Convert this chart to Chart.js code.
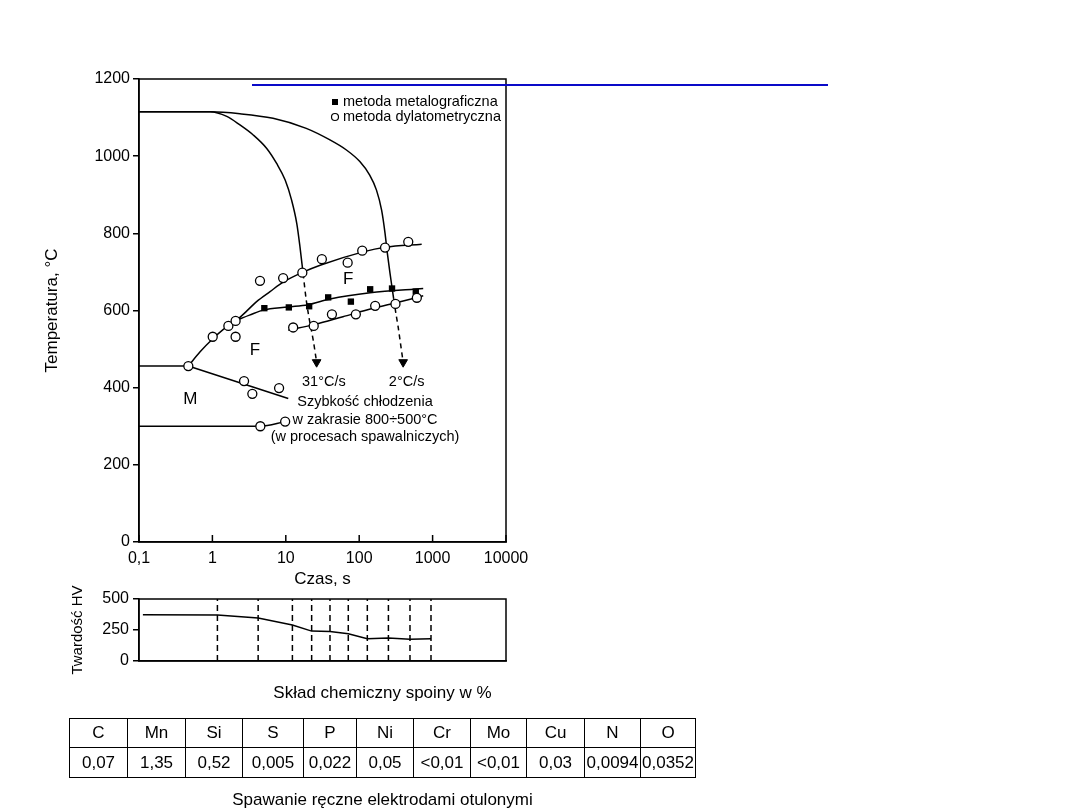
<!DOCTYPE html>
<html>
<head>
<meta charset="utf-8">
<script src="https://cdn.jsdelivr.net/npm/chart.js@4.4.0/dist/chart.umd.min.js"></script>
<style>
  body { margin: 0; background: #fff; width: 1080px; height: 810px; position: relative; overflow: hidden;
         font-family: "Liberation Sans", Arial, sans-serif; color: #000; }
  #main { position: absolute; left: 0; top: 0; }
  #hv { position: absolute; left: 0; top: 560px; }
  .blue { position: absolute; left: 252px; top: 84px; width: 576px; height: 2px; background: #0a0ac8; }
  .cap { position: absolute; left: 69px; width: 627px; text-align: center; font-size: 17px; line-height: 20px; }
  table { position: absolute; left: 69px; top: 718px; border-collapse: collapse; table-layout: fixed; font-size: 17px; }
  td { border: 1.5px solid #000; text-align: center; padding: 0; height: 28px; white-space: nowrap; }
</style>
</head>
<body>
<canvas id="main" width="560" height="600"></canvas>
<canvas id="hv" width="560" height="130"></canvas>
<div class="blue"></div>
<div class="cap" style="top:683px">Skład chemiczny spoiny w %</div>
<table id="tab"></table>
<div class="cap" style="top:790px">Spawanie ręczne elektrodami otulonymi</div>

<script>
// ---- data (time in s, temperature in °C) ----
const xTicks = [0.1, 1, 10, 100, 1000, 10000];
const yTicks = [0, 200, 400, 600, 800, 1000, 1200];

// cooling curves (solid part, then dashed part ending in an arrow)
const cool31 = [[0.1,1115],[0.93,1115],[1.57,1103],[2.37,1081],[3.6,1055],[5.5,1020],[7.5,981],[9.8,938],[12,886],[14.1,826],[15.6,765],[17.2,696]];
const cool31Dash = [[17.2,696],[19,627],[21,575],[23.6,524],[26.3,466]];
const cool2 = [[0.1,1115],[0.93,1115],[2.37,1110],[6.7,1098],[19,1072],[40,1042],[67,1016],[102,986],[139,951],[172,912],[202,860],[225,800],[242,748],[263,696],[280,660],[295,630]];
const cool2Dash = [[295,630],[316,593],[339,558],[368,510],[397,466]];

// transformation lines
const ferriteStart = [[0.47,456],[0.68,493],[1.03,528],[1.41,551],[2.14,575],[2.95,599],[4,623],[6.1,649],[9.3,674],[16.5,698],[30,718],[113,752],[225,764],[710,772]];
const midLine = [[2.14,575],[3.2,588],[4.9,601],[10.8,609],[20,615],[40,630],[141,646],[745,657]];
const lowLine = [[10.8,549],[25,564],[60,584],[150,605],[350,622],[745,638]];
const flat456 = [[0.1,456],[0.47,456]];
const downLine = [[0.47,456],[10.8,372]];
const msLine = [[0.1,300],[4.5,300],[9.8,312]];

// measured points
const dilato = [[1.01,532],[1.65,560],[2.07,573],[2.07,532],[4.45,677],[9.2,684],[16.8,698],[31,733],[69.6,724],[110,755],[225,763],[466,778],
                [12.6,556],[24,560],[42.5,590],[90,590],[165,612],[312,617],[610,633],
                [0.47,456],[2.7,417],[3.5,384],[8.1,399],
                [4.5,300],[9.8,312]];
const metallo = [[5.1,606],[11,608],[20.8,611],[37.8,634],[77,623],[141,655],[280,657],[590,649]];

// text in the diagram: [text, time, temperature]
const notes = [
  ['F', 71, 681], ['F', 3.8, 498], ['M', 0.5, 370],
  ['31°C/s', 33, 415], ['2°C/s', 443, 415],
  ['Szybkość chłodzenia', 120, 363],
  ['w zakrasie 800÷500°C', 120, 316],
  ['(w procesach spawalniczych)', 120, 272]
];
const legendItems = ['metoda metalograficzna', 'metoda dylatometryczna'];

// hardness
const hvTime = [0.113, 1.17, 4.2, 12.3, 22.5, 40, 71, 129, 250, 492, 951];
const hvValue = [373, 371, 347, 291, 241, 238, 220, 180, 185, 175, 180];
const hvCuts = [1.17, 4.2, 12.3, 22.5, 40, 71, 129, 250, 492, 951];
const hvTicks = [0, 250, 500];

// chemical composition
const elements = ['C','Mn','Si','S','P','Ni','Cr','Mo','Cu','N','O'];
const contents = ['0,07','1,35','0,52','0,005','0,022','0,05','<0,01','<0,01','0,03','0,0094','0,0352'];
const colWidths = [58,58,57,61,53,57,57,56,58,56,55];

// ---- table ----
const tab = document.getElementById('tab');
tab.innerHTML = '<colgroup>' + colWidths.map(w => `<col style="width:${w}px">`).join('') + '</colgroup>' +
  '<tr>' + elements.map(e => `<td>${e}</td>`).join('') + '</tr>' +
  '<tr>' + contents.map(c => `<td style="height:29px">${c.replace('<','&lt;')}</td>`).join('') + '</tr>';

// ---- charts ----
Chart.defaults.font.family = '"Liberation Sans", Arial, sans-serif';
Chart.defaults.color = '#000';
const pts = a => a.map(p => ({x: p[0], y: p[1]}));

const frame = {
  id: 'frame',
  afterDatasetsDraw(chart, args, opts) {
    const {ctx, chartArea: a} = chart;
    ctx.save();
    ctx.strokeStyle = '#000';
    ctx.lineWidth = 1.5;
    ctx.strokeRect(a.left, a.top, a.right - a.left, a.bottom - a.top);
    if (opts.innerTicks) {
      const x = chart.scales.x;
      x.ticks.forEach(t => {
        const px = x.getPixelForValue(t.value);
        ctx.beginPath(); ctx.moveTo(px, a.bottom); ctx.lineTo(px, a.bottom - 7); ctx.stroke();
      });
    }
    ctx.restore();
  }
};

const texts = {
  id: 'texts',
  afterDatasetsDraw(chart) {
    const {ctx, chartArea: a, scales: {x, y}} = chart;
    ctx.save();
    ctx.fillStyle = '#000';
    ctx.textAlign = 'center';
    ctx.textBaseline = 'middle';
    notes.forEach(([s, t, T]) => {
      ctx.font = (s.length === 1 ? '17px' : '14.5px') + ' "Liberation Sans", Arial, sans-serif';
      ctx.fillText(s, x.getPixelForValue(t), y.getPixelForValue(T));
    });
    // legend in the upper right corner
    ctx.font = '14.5px "Liberation Sans", Arial, sans-serif';
    ctx.textAlign = 'left';
    const lx = a.right - 171, ly = a.top + 23;
    ctx.fillRect(lx - 3, ly - 3, 6, 6);
    ctx.fillText(legendItems[0], lx + 8, ly);
    ctx.beginPath(); ctx.arc(lx, ly + 15, 3.5, 0, Math.PI * 2);
    ctx.lineWidth = 1.2; ctx.strokeStyle = '#000'; ctx.stroke();
    ctx.fillText(legendItems[1], lx + 8, ly + 15);
    ctx.restore();
  }
};

const line = (data, dash) => ({
  data: pts(data), borderColor: '#000', borderWidth: 1.5, pointRadius: 0,
  cubicInterpolationMode: 'monotone', borderDash: dash || [], order: 2
});
const arrowLine = data => Object.assign(line(data, [5, 4]), {
  pointRadius: c => c.dataIndex === data.length - 1 ? 5 : 0,
  pointStyle: 'triangle', pointRotation: 180, pointBackgroundColor: '#000', pointBorderColor: '#000', pointBorderWidth: 1
});

new Chart(document.getElementById('main'), {
  type: 'line',
  data: {
    datasets: [
      { data: pts(dilato), showLine: false, pointStyle: 'circle', pointRadius: 4.5,
        pointBackgroundColor: '#fff', pointBorderColor: '#000', pointBorderWidth: 1.3, order: 0 },
      { data: pts(metallo), showLine: false, pointStyle: 'rect', pointRadius: 4.5,
        pointBackgroundColor: '#000', pointBorderColor: '#000', pointBorderWidth: 0, order: 0 },
      line(cool31), arrowLine(cool31Dash), line(cool2), arrowLine(cool2Dash),
      line(ferriteStart), line(midLine), line(lowLine), line(flat456), line(downLine), line(msLine)
    ]
  },
  options: {
    responsive: false, animation: false,
    layout: { padding: { top: 79, right: 54, left: 0, bottom: 0 } },
    plugins: { legend: { display: false }, tooltip: { enabled: false }, frame: { innerTicks: true } },
    scales: {
      x: {
        type: 'logarithmic', min: 0.1, max: 10000,
        afterBuildTicks: s => { s.ticks = xTicks.map(v => ({value: v})); },
        afterFit: s => { s.height = 58; },
        ticks: { autoSkip: false, maxRotation: 0, padding: 7, font: { size: 16 },
                 callback: v => String(v).replace('.', ',') },
        grid: { display: false, drawTicks: false },
        border: { color: '#000', width: 1.5 },
        title: { display: true, text: 'Czas, s', font: { size: 17 }, padding: { top: 0, bottom: 10 } }
      },
      y: {
        min: 0, max: 1200,
        afterBuildTicks: s => { s.ticks = yTicks.map(v => ({value: v})); },
        afterFit: s => { s.width = 139; },
        ticks: { padding: 3, font: { size: 16 }, callback: v => String(v) },
        grid: { drawOnChartArea: false, tickLength: 6, color: '#000', lineWidth: 1.5 },
        border: { color: '#000', width: 1.5 },
        title: { display: true, text: 'Temperatura, °C', font: { size: 17 }, padding: { top: 42, bottom: 0 } }
      }
    }
  },
  plugins: [frame, texts]
});

new Chart(document.getElementById('hv'), {
  type: 'line',
  data: {
    datasets: [
      { data: hvTime.map((t, i) => ({x: t, y: hvValue[i]})), borderColor: '#000', borderWidth: 1.5, pointRadius: 0, tension: 0 }
    ].concat(hvCuts.map(t => ({
      data: [{x: t, y: 0}, {x: t, y: 500}], borderColor: '#000', borderWidth: 1.5, borderDash: [6, 4], pointRadius: 0
    })))
  },
  options: {
    responsive: false, animation: false,
    layout: { padding: { top: 39, right: 54, left: 0, bottom: 0 } },
    plugins: { legend: { display: false }, tooltip: { enabled: false }, frame: { innerTicks: false } },
    scales: {
      x: {
        type: 'logarithmic', min: 0.1, max: 10000,
        afterFit: s => { s.height = 29; },
        ticks: { display: false },
        grid: { display: false, drawTicks: false },
        border: { color: '#000', width: 1.5 }
      },
      y: {
        min: 0, max: 500,
        afterBuildTicks: s => { s.ticks = hvTicks.map(v => ({value: v})); },
        afterFit: s => { s.width = 139; },
        ticks: { padding: 4, font: { size: 16 }, callback: v => String(v) },
        grid: { drawOnChartArea: false, tickLength: 6, color: '#000', lineWidth: 1.5 },
        border: { color: '#000', width: 1.5 },
        title: { display: true, text: 'Twardość HV', font: { size: 15 }, padding: { top: 69, bottom: 0 } }
      }
    }
  },
  plugins: [frame]
});
</script>
</body>
</html>
